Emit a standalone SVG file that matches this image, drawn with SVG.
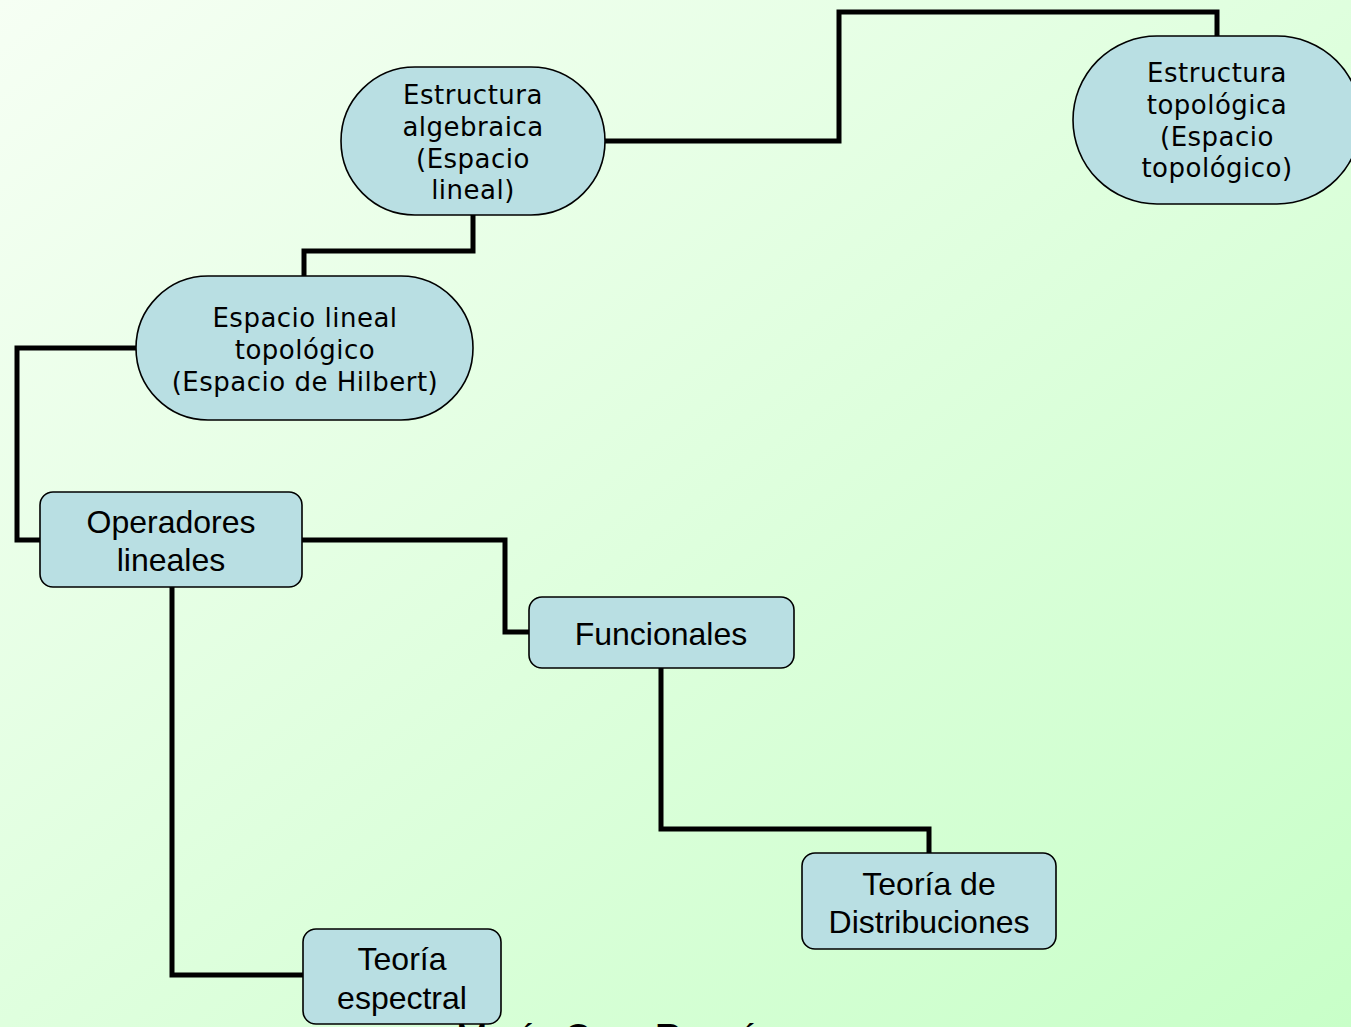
<svg xmlns="http://www.w3.org/2000/svg" width="1351" height="1027" viewBox="0 0 1351 1027">
<defs>
<linearGradient id="bg" x1="0" y1="0" x2="1" y2="1">
<stop offset="0" stop-color="#f6fff4"/>
<stop offset="1" stop-color="#c8ffc8"/>
</linearGradient>
<style>
.node{fill:#b9dfe3;stroke:#000;stroke-width:1.6}
.v{font-family:"DejaVu Sans",Verdana,sans-serif;font-size:26px;letter-spacing:0.5px;fill:#000;text-anchor:middle}
.a{font-family:"Liberation Sans",Arial,sans-serif;font-size:32px;fill:#000;text-anchor:middle}
.c{fill:none;stroke:#000;stroke-width:5;stroke-linejoin:miter}
</style>
</defs>
<rect x="0" y="0" width="1351" height="1027" fill="url(#bg)"/>
<text x="456" y="1051" font-family="'Liberation Sans',Arial,sans-serif" font-size="38" fill="#000">María Cruz Ruesí</text>
<g id="connectors">
<polyline class="c" points="605,141 839,141 839,12 1217,12 1217,36"/>
<polyline class="c" points="473,215 473,251 304,251 304,276"/>
<polyline class="c" points="136,348 17,348 17,540 40,540"/>
<polyline class="c" points="302,540 505,540 505,632 529,632"/>
<polyline class="c" points="172,587 172,975 303,975"/>
<polyline class="c" points="661,668 661,829 929,829 929,853"/>
</g>
<g id="n-algebraica">
<rect class="node" x="341" y="67" width="264" height="148" rx="74" ry="74"/>
<text class="v" x="473"><tspan x="473" y="104">Estructura</tspan><tspan x="473" y="136">algebraica</tspan><tspan x="473" y="168">(Espacio</tspan><tspan x="473" y="199">lineal)</tspan></text>
</g>
<g id="n-topologica">
<rect class="node" x="1073" y="36" width="288" height="168" rx="84" ry="84"/>
<text class="v" x="1217"><tspan x="1217" y="82">Estructura</tspan><tspan x="1217" y="114">topológica</tspan><tspan x="1217" y="146">(Espacio</tspan><tspan x="1217" y="177">topológico)</tspan></text>
</g>
<g id="n-lineal-top">
<rect class="node" x="136" y="276" width="337" height="144" rx="72" ry="72"/>
<text class="v" x="305"><tspan x="305" y="327">Espacio lineal</tspan><tspan x="305" y="359">topológico</tspan><tspan x="305" y="391">(Espacio de Hilbert)</tspan></text>
</g>
<g id="n-operadores">
<rect class="node" x="40" y="492" width="262" height="95" rx="13" ry="13"/>
<text class="a" x="171"><tspan x="171" y="533">Operadores</tspan><tspan x="171" y="571">lineales</tspan></text>
</g>
<g id="n-funcionales">
<rect class="node" x="529" y="597" width="265" height="71" rx="13" ry="13"/>
<text class="a" x="661" y="645">Funcionales</text>
</g>
<g id="n-distribuciones">
<rect class="node" x="802" y="853" width="254" height="96" rx="13" ry="13"/>
<text class="a" x="929"><tspan x="929" y="895">Teoría de</tspan><tspan x="929" y="933">Distribuciones</tspan></text>
</g>
<g id="n-espectral">
<rect class="node" x="303" y="929" width="198" height="95" rx="13" ry="13"/>
<text class="a" x="402"><tspan x="402" y="970">Teoría</tspan><tspan x="402" y="1009">espectral</tspan></text>
</g>
</svg>
